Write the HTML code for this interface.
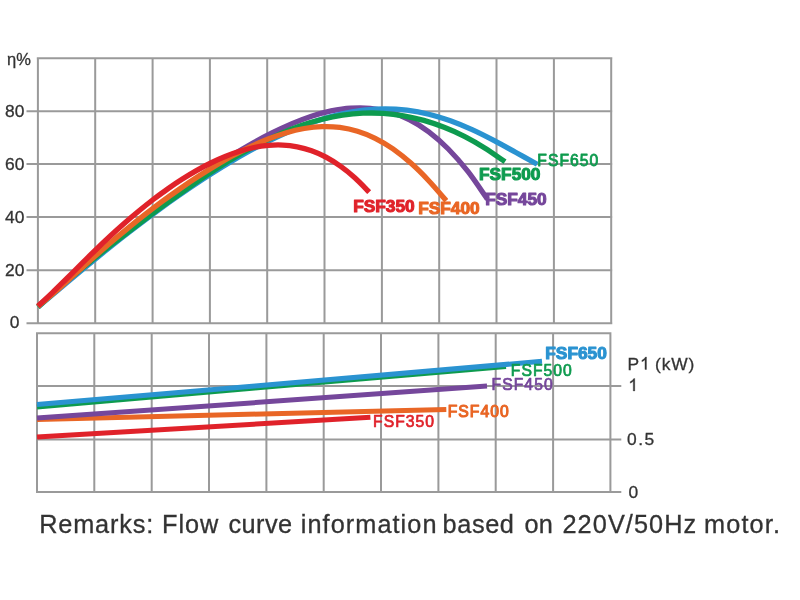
<!DOCTYPE html>
<html><head><meta charset="utf-8">
<style>
html,body{margin:0;padding:0;background:#fff;}
body{width:800px;height:600px;overflow:hidden;}
svg{display:block;}
text{font-family:"Liberation Sans",sans-serif;}
.ax{font-size:17.4px;fill:#333;stroke:#333;stroke-width:0.3px;}
.lb{font-size:17.3px;stroke-linejoin:round;}
.b{font-weight:bold;}
.lr{font-size:15.7px;letter-spacing:1.05px;stroke-linejoin:round;}
</style></head><body>
<svg width="800" height="600" viewBox="0 0 800 600">
<defs><filter id="bl" x="0" y="0" width="800" height="600" filterUnits="userSpaceOnUse"><feGaussianBlur stdDeviation="0.45"/></filter></defs>
<rect width="800" height="600" fill="#fff"/>
<g filter="url(#bl)">
<g stroke="#9a9a9a" stroke-width="2" fill="none"><path d="M36.8,58.3H612.3M26.5,111.2H612.3M26.5,164.1H612.3M26.5,217.1H612.3M26.5,270.3H612.3M26.5,323.3H612.3M37.9,58.3V323.3M95.2,58.3V323.3M152.6,58.3V323.3M209.9,58.3V323.3M267.2,58.3V323.3M324.5,58.3V323.3M381.9,58.3V323.3M439.2,58.3V323.3M496.5,58.3V323.3M553.9,58.3V323.3M611.2,58.3V323.3M36.0,333.3H611.4000000000001M36.0,386.1H621.3M36.0,439.4H621.3M36.0,491.9H621.3M37.0,333.3V492.9M94.3,333.3V492.9M151.7,333.3V492.9M209.0,333.3V492.9M266.4,333.3V492.9M323.7,333.3V492.9M381.0,333.3V492.9M438.4,333.3V492.9M495.7,333.3V492.9M553.1,333.3V492.9M610.4,333.3V492.9"/></g>
<g fill="none" stroke-linecap="butt" stroke-linejoin="round">
<path stroke="#75469b" stroke-width="5.3" d="M38.0,306.5 C41.3,303.6 51.0,295.0 57.5,289.3 C64.1,283.6 70.6,277.8 77.1,272.1 C83.6,266.4 90.1,260.8 96.6,255.2 C103.1,249.7 109.6,244.2 116.2,238.9 C122.7,233.5 129.2,228.3 135.7,223.1 C142.2,218.0 148.7,213.0 155.2,208.0 C161.7,203.1 168.3,198.3 174.8,193.6 C181.3,188.9 187.8,184.3 194.3,179.9 C200.8,175.4 207.3,171.0 213.9,166.8 C220.4,162.6 226.9,158.4 233.4,154.5 C239.9,150.5 246.4,146.7 252.9,143.0 C259.4,139.4 266.0,135.9 272.5,132.7 C279.0,129.4 285.5,126.4 292.0,123.6 C298.5,120.9 305.0,118.4 311.5,116.2 C318.1,114.1 324.6,112.3 331.1,110.9 C337.6,109.6 344.1,108.5 350.6,108.1 C357.1,107.7 363.7,107.6 370.2,108.3 C376.7,108.9 383.2,110.1 389.7,112.0 C396.2,113.9 402.7,116.4 409.2,119.7 C415.8,123.0 422.3,127.0 428.8,131.9 C435.3,136.8 441.8,142.5 448.3,149.0 C454.8,155.6 461.3,163.0 467.9,171.4 C474.4,179.7 484.1,194.5 487.4,199.1"/>
<path stroke="#2a93d1" stroke-width="5.3" d="M38.0,306.9 C41.6,303.8 52.5,294.7 59.7,288.6 C66.9,282.5 74.2,276.4 81.4,270.4 C88.6,264.4 95.9,258.5 103.1,252.6 C110.4,246.8 117.6,241.0 124.8,235.4 C132.1,229.7 139.3,224.2 146.5,218.8 C153.8,213.4 161.0,208.1 168.2,202.9 C175.5,197.7 182.7,192.7 189.9,187.8 C197.2,182.9 204.4,178.1 211.7,173.5 C218.9,168.9 226.1,164.5 233.4,160.2 C240.6,156.0 247.8,151.9 255.1,148.0 C262.3,144.1 269.5,140.4 276.8,137.0 C284.0,133.6 291.2,130.4 298.5,127.5 C305.7,124.6 312.9,122.0 320.2,119.7 C327.4,117.4 334.7,115.4 341.9,113.8 C349.1,112.3 356.4,111.0 363.6,110.2 C370.8,109.4 378.1,108.9 385.3,108.9 C392.5,108.9 399.8,109.4 407.0,110.2 C414.2,111.1 421.5,112.4 428.7,114.2 C436.0,115.9 443.2,118.2 450.4,120.7 C457.7,123.3 464.9,126.3 472.1,129.6 C479.4,132.9 486.6,136.6 493.8,140.4 C501.1,144.2 508.3,148.3 515.5,152.3 C522.8,156.3 533.6,162.3 537.2,164.3"/>
<path stroke="#109b4f" stroke-width="5.3" d="M38.0,307.0 C41.4,303.9 51.5,294.4 58.3,288.4 C65.1,282.4 71.8,276.8 78.6,271.2 C85.4,265.6 92.1,260.1 98.9,254.7 C105.7,249.4 112.4,244.1 119.2,238.8 C126.0,233.6 132.8,228.4 139.5,223.3 C146.3,218.2 153.1,213.2 159.8,208.2 C166.6,203.2 173.4,198.3 180.1,193.5 C186.9,188.7 193.7,184.0 200.4,179.4 C207.2,174.8 214.0,170.4 220.7,166.1 C227.5,161.9 234.3,157.7 241.0,153.8 C247.8,149.9 254.6,146.2 261.3,142.8 C268.1,139.4 274.9,136.1 281.7,133.2 C288.4,130.3 295.2,127.7 302.0,125.3 C308.7,123.0 315.5,121.0 322.3,119.3 C329.0,117.6 335.8,116.2 342.6,115.2 C349.3,114.2 356.1,113.5 362.9,113.2 C369.6,112.9 376.4,112.9 383.2,113.4 C389.9,113.8 396.7,114.6 403.5,115.8 C410.2,116.9 417.0,118.5 423.8,120.4 C430.6,122.3 437.3,124.6 444.1,127.3 C450.9,129.9 457.6,133.0 464.4,136.4 C471.2,139.9 477.9,143.7 484.7,147.9 C491.5,152.1 501.6,159.4 505.0,161.7"/>
<path stroke="#e96625" stroke-width="5.3" d="M38.0,306.5 C41.0,303.9 49.8,296.5 55.8,291.3 C61.7,286.1 67.6,280.7 73.5,275.4 C79.4,270.1 85.3,264.8 91.2,259.5 C97.2,254.3 103.1,249.1 109.0,244.0 C114.9,238.9 120.8,234.0 126.8,229.1 C132.7,224.2 138.6,219.5 144.5,214.9 C150.4,210.3 156.3,205.8 162.2,201.4 C168.2,197.0 174.1,192.8 180.0,188.7 C185.9,184.6 191.8,180.6 197.7,176.8 C203.7,172.9 209.6,169.2 215.5,165.7 C221.4,162.2 227.3,158.7 233.2,155.5 C239.2,152.3 245.1,149.3 251.0,146.5 C256.9,143.7 262.8,141.1 268.8,138.8 C274.7,136.5 280.6,134.4 286.5,132.7 C292.4,130.9 298.3,129.5 304.2,128.5 C310.2,127.5 316.1,126.8 322.0,126.6 C327.9,126.4 333.8,126.6 339.8,127.4 C345.7,128.2 351.6,129.4 357.5,131.2 C363.4,133.0 369.3,135.4 375.2,138.3 C381.2,141.3 387.1,144.8 393.0,148.9 C398.9,153.1 404.8,157.8 410.8,163.1 C416.7,168.3 422.6,174.2 428.5,180.5 C434.4,186.7 443.3,197.3 446.2,200.7"/>
<path stroke="#e0222a" stroke-width="5.3" d="M38.0,306.0 C40.4,303.8 47.6,297.2 52.4,292.6 C57.2,288.0 62.0,283.2 66.8,278.5 C71.6,273.7 76.4,268.9 81.2,264.1 C86.0,259.4 90.8,254.6 95.6,250.0 C100.4,245.3 105.2,240.7 110.0,236.3 C114.8,231.8 119.6,227.5 124.4,223.3 C129.2,219.0 134.0,214.9 138.8,211.0 C143.6,207.0 148.4,203.2 153.2,199.5 C158.0,195.9 162.8,192.3 167.6,189.0 C172.4,185.6 177.2,182.3 182.0,179.3 C186.8,176.2 191.6,173.3 196.4,170.6 C201.2,167.9 206.0,165.3 210.8,163.0 C215.6,160.6 220.4,158.4 225.2,156.5 C230.0,154.5 234.8,152.8 239.6,151.3 C244.4,149.8 249.2,148.5 254.0,147.5 C258.8,146.5 263.6,145.8 268.4,145.4 C273.2,145.0 278.0,144.8 282.8,145.1 C287.6,145.3 292.4,145.9 297.2,146.8 C302.0,147.8 306.8,149.1 311.6,150.8 C316.4,152.5 321.2,154.6 326.0,157.2 C330.8,159.8 335.6,162.8 340.4,166.2 C345.2,169.6 350.0,173.5 354.8,177.8 C359.6,182.1 366.8,189.7 369.2,192.1"/>
</g>
<g fill="none" stroke-width="5">
<path stroke="#109b4f" d="M37,406.9 L506,366.4"/>
<path stroke="#2a93d1" d="M37,404.6 L542,361.3"/>
<path stroke="#e96625" d="M37,419.4 L446.3,409.5"/>
<path stroke="#75469b" d="M37,418.1 L487,386.1"/>
<path stroke="#e0222a" d="M37,437 L370.4,417.3"/>
</g>
<text class="lb b" x="353.2" y="211.8" fill="#e0222a" stroke="#e0222a" stroke-width="1.1">FSF350</text>
<text class="lb b" x="418.2" y="214" fill="#e96625" stroke="#e96625" stroke-width="1.1">FSF400</text>
<text class="lb b" x="485.2" y="205" fill="#75469b" stroke="#75469b" stroke-width="1.1">FSF450</text>
<text class="lb b" x="479" y="179.5" fill="#109b4f" stroke="#109b4f" stroke-width="1.1">FSF500</text>
<text class="lr" x="537.3" y="166.2" fill="#109b4f" stroke="#109b4f" stroke-width="0.8">FSF650</text>
<text class="lb b" x="545.3" y="358.7" fill="#2a93d1" stroke="#2a93d1" stroke-width="1.1">FSF650</text>
<text class="lr" x="510.8" y="375.8" fill="#109b4f" stroke="#109b4f" stroke-width="0.7">FSF500</text>
<text class="lr" x="491.6" y="390.1" fill="#75469b" stroke="#75469b" stroke-width="0.7">FSF450</text>
<text class="lr" x="447.7" y="416.9" fill="#e96625" stroke="#e96625" stroke-width="1.1">FSF400</text>
<text class="lr" x="373" y="426.6" fill="#e0222a" stroke="#e0222a" stroke-width="0.7">FSF350</text>
<g class="ax">
<text x="7" y="64.6" font-size="16.5">η%</text>
<text x="5" y="117.4">80</text>
<text x="5" y="170.3">60</text>
<text x="5" y="223.2">40</text>
<text x="5" y="276.1">20</text>
<text x="9.8" y="328">0</text>
<text x="627.6" y="369.5" letter-spacing="0.85">P</text><path d="M646.49,369.50 L644.96,369.50 L644.96,359.76 Q643.48,361.06 641.90,361.72 L641.90,360.24 Q644.52,359.06 645.50,356.99 L646.49,356.99 Z" fill="#333" stroke="#333" stroke-width="0.3"/><text x="655.1" y="369.5" letter-spacing="0.85">(kW)</text>
<path d="M634.79,391.00 L633.26,391.00 L633.26,381.26 Q631.78,382.56 630.20,383.22 L630.20,381.74 Q632.82,380.56 633.80,378.49 L634.79,378.49 Z" fill="#333" stroke="#333" stroke-width="0.3"/>
<text x="627" y="444.6" letter-spacing="1.5">0.5</text>
<text x="628.6" y="497.6">0</text>
</g>
<text x="39.18" y="532.8" font-size="25.3" letter-spacing="0.838" fill="#333" stroke="#333" stroke-width="0.3">Remarks:</text><text x="161.98" y="532.8" font-size="25.3" letter-spacing="0.963" fill="#333" stroke="#333" stroke-width="0.3">Flow</text><text x="228.49" y="532.8" font-size="25.3" letter-spacing="0.448" fill="#333" stroke="#333" stroke-width="0.3">curve</text><text x="300.78" y="532.8" font-size="25.3" letter-spacing="1.056" fill="#333" stroke="#333" stroke-width="0.3">information</text><text x="442.58" y="532.8" font-size="25.3" letter-spacing="0.605" fill="#333" stroke="#333" stroke-width="0.3">based</text><text x="524.49" y="532.8" font-size="25.3" letter-spacing="0.188" fill="#333" stroke="#333" stroke-width="0.3">on</text><text x="562.49" y="532.8" font-size="25.3" letter-spacing="1.067" fill="#333" stroke="#333" stroke-width="0.3">220V/50Hz</text><text x="703.98" y="532.8" font-size="25.3" letter-spacing="1.144" fill="#333" stroke="#333" stroke-width="0.3">motor.</text>
</g>
</svg>
</body></html>
